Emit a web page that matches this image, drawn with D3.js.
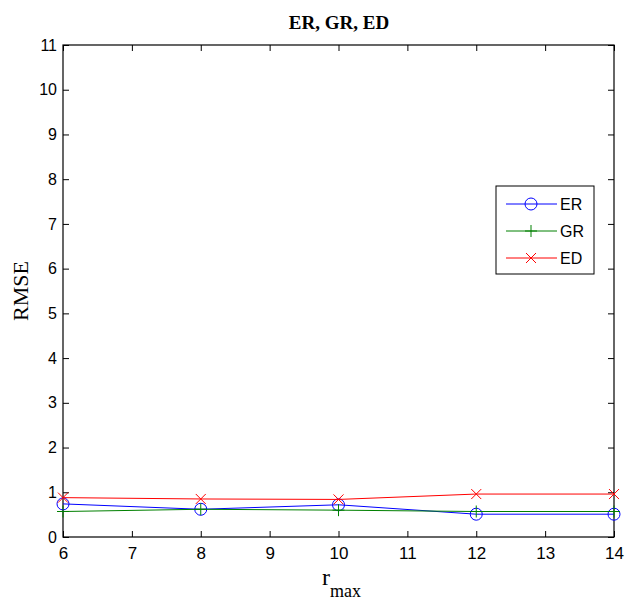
<html>
<head>
<script src="https://d3js.org/d3.v7.min.js"></script>
<style>
body { margin: 0; background: #fff; }
.tick text { font-family: "Liberation Sans", Arial, sans-serif; font-size: 16px; }
.xax .tick text { font-size: 17px; }
</style>
</head>
<body>
<svg id="chart" width="625" height="602"></svg>
<script>
// data
var rmax = [6, 8, 10, 12, 14];
var erVals = [0.74, 0.62, 0.72, 0.51, 0.51];
var grVals = [0.57, 0.62, 0.60, 0.57, 0.57];
var edVals = [0.88, 0.85, 0.84, 0.96, 0.96];
var xTicks = [6, 7, 8, 9, 10, 11, 12, 13, 14];
var yTicks = [0, 1, 2, 3, 4, 5, 6, 7, 8, 9, 10, 11];

var series = [
  {name: "ER", values: erVals, color: "#0000ff", marker: "circle"},
  {name: "GR", values: grVals, color: "#008000", marker: "plus"},
  {name: "ED", values: edVals, color: "#ff0000", marker: "cross"}
];

var pLeft = 63, pRight = 614, pTop = 45, pBottom = 537;
var svg = d3.select("#chart");

var x = d3.scaleLinear().domain([6, 14]).range([pLeft, pRight]);
var y = d3.scaleLinear().domain([0, 11]).range([pBottom, pTop]);

// axes, ticks pointing inward
svg.append("g").attr("class", "xax")
  .attr("transform", "translate(0," + pBottom + ")")
  .call(d3.axisBottom(x).tickValues(xTicks).tickSize(-6).tickPadding(10).tickFormat(d3.format("d")))
  .call(function(g) { g.select(".domain").remove(); });
svg.append("g")
  .attr("transform", "translate(0," + pTop + ")")
  .call(d3.axisTop(x).tickValues(xTicks).tickSize(-6).tickFormat(""))
  .call(function(g) { g.select(".domain").remove(); });
svg.append("g")
  .attr("transform", "translate(" + pLeft + ",0)")
  .call(d3.axisLeft(y).tickValues(yTicks).tickSize(-6).tickPadding(6).tickFormat(d3.format("d")))
  .call(function(g) { g.select(".domain").remove(); });
svg.append("g")
  .attr("transform", "translate(" + pRight + ",0)")
  .call(d3.axisRight(y).tickValues(yTicks).tickSize(-6).tickFormat(""))
  .call(function(g) { g.select(".domain").remove(); });

svg.selectAll(".tick line").attr("stroke", "#000");
svg.selectAll(".tick text").attr("fill", "#000");

// frame
svg.append("rect")
  .attr("x", pLeft).attr("y", pTop)
  .attr("width", pRight - pLeft).attr("height", pBottom - pTop)
  .attr("fill", "none").attr("stroke", "#000").attr("stroke-width", 1.2);

function drawMarker(g, type, cx, cy, color) {
  if (type === "circle") {
    g.append("circle").attr("cx", cx).attr("cy", cy).attr("r", 6)
      .attr("fill", "none").attr("stroke", color).attr("stroke-width", 1);
  } else if (type === "plus") {
    g.append("path").attr("d", "M" + (cx - 6) + "," + cy + "H" + (cx + 6) + "M" + cx + "," + (cy - 6) + "V" + (cy + 6))
      .attr("stroke", color).attr("stroke-width", 1).attr("fill", "none");
  } else {
    g.append("path").attr("d", "M" + (cx - 5) + "," + (cy - 5) + "L" + (cx + 5) + "," + (cy + 5) + "M" + (cx - 5) + "," + (cy + 5) + "L" + (cx + 5) + "," + (cy - 5))
      .attr("stroke", color).attr("stroke-width", 1).attr("fill", "none");
  }
}

var line = d3.line()
  .x(function(d, i) { return x(rmax[i]); })
  .y(function(d) { return y(d); });

series.forEach(function(s) {
  var g = svg.append("g");
  g.append("path").datum(s.values)
    .attr("d", line).attr("fill", "none")
    .attr("stroke", s.color).attr("stroke-width", 1);
  s.values.forEach(function(v, i) {
    drawMarker(g, s.marker, x(rmax[i]), y(v), s.color);
  });
});

// legend
var lg = svg.append("g");
lg.append("rect").attr("x", 496).attr("y", 186).attr("width", 98).attr("height", 88)
  .attr("fill", "#fff").attr("stroke", "#000").attr("stroke-width", 1);
series.forEach(function(s, i) {
  var ly = 204 + i * 27;
  lg.append("line").attr("x1", 506).attr("x2", 557).attr("y1", ly).attr("y2", ly)
    .attr("stroke", s.color).attr("stroke-width", 1);
  drawMarker(lg, s.marker, 531, ly, s.color);
  lg.append("text").attr("x", 560).attr("y", ly + 6)
    .attr("font-family", "Liberation Sans, Arial, sans-serif").attr("font-size", 16)
    .text(s.name);
});

// title and labels
svg.append("text").attr("x", 339).attr("y", 29).attr("text-anchor", "middle")
  .attr("font-family", "Liberation Serif, Times New Roman, serif").attr("font-weight", "bold")
  .attr("font-size", 19).text("ER, GR, ED");

svg.append("text").attr("transform", "translate(28,291) rotate(-90)").attr("text-anchor", "middle")
  .attr("font-family", "Liberation Serif, Times New Roman, serif")
  .attr("font-size", 22).text("RMSE");

var xl = svg.append("text").attr("x", 322).attr("y", 585)
  .attr("font-family", "Liberation Serif, Times New Roman, serif").attr("font-size", 24);
xl.append("tspan").text("r");
xl.append("tspan").attr("dy", 12).attr("font-size", 18).text("max");
</script>
</body>
</html>
